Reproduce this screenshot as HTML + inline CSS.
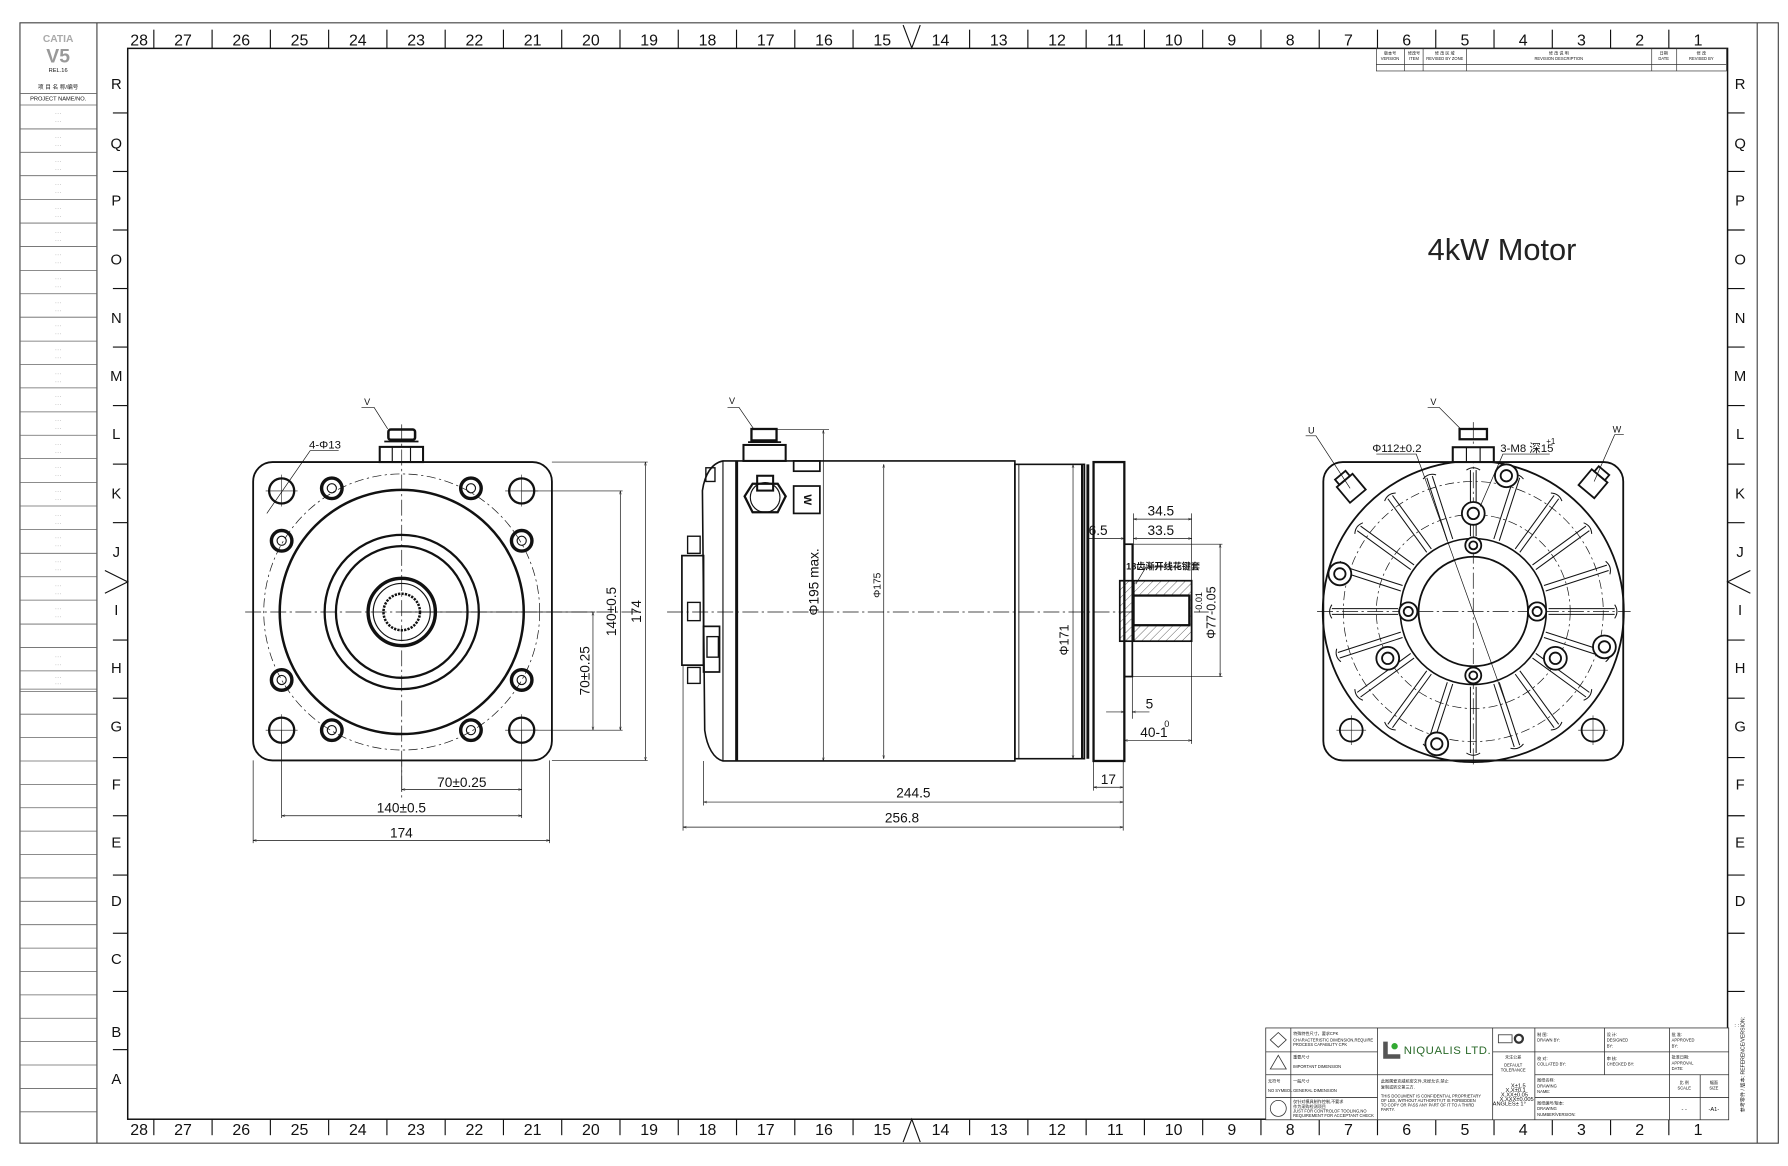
<!DOCTYPE html>
<html><head><meta charset="utf-8">
<style>
html,body{margin:0;padding:0;background:#fff;}
svg{display:block;}
text{font-family:"Liberation Sans","Noto Sans CJK SC",sans-serif;fill:#111;}
.n{font-family:"Liberation Sans Narrow","Liberation Sans","Noto Sans CJK SC",sans-serif;}
</style></head><body>
<svg width="1788" height="1166" viewBox="0 0 1568 1022" preserveAspectRatio="none" xmlns="http://www.w3.org/2000/svg">
<defs>
<marker id="a" viewBox="0 0 10 10" refX="10" refY="5" markerWidth="7" markerHeight="5" orient="auto-start-reverse"><path d="M0,2 L10,5 L0,8" fill="none" stroke="#111" stroke-width="1.2"/></marker>
<pattern id="h" width="5" height="5" patternUnits="userSpaceOnUse" patternTransform="rotate(45)"><line x1="0" y1="0" x2="0" y2="5" stroke="#222" stroke-width="0.6"/></pattern>
</defs>
<rect width="1568" height="1022" fill="#fff"/>
<!-- page border -->
<rect x="17.5" y="20" width="1542" height="982" fill="none" stroke="#444" stroke-width="1"/>
<line x1="85" y1="20" x2="85" y2="1002" stroke="#444" stroke-width="1"/>
<line x1="1541" y1="20" x2="1541" y2="1002" stroke="#444" stroke-width="1"/>
<!-- inner frame -->
<rect x="112" y="42.4" width="1403" height="938.6" fill="none" stroke="#111" stroke-width="1.3"/>
<!-- left strip -->
<g stroke="#666" stroke-width="0.7">
<line x1="17.5" y1="82" x2="85" y2="82"/>
<line x1="17.5" y1="92" x2="85" y2="92"/>
<line x1="17.5" y1="113" x2="85" y2="113"/><line x1="17.5" y1="133.5" x2="85" y2="133.5"/><line x1="17.5" y1="154" x2="85" y2="154"/><line x1="17.5" y1="175" x2="85" y2="175"/><line x1="17.5" y1="195.5" x2="85" y2="195.5"/><line x1="17.5" y1="216" x2="85" y2="216"/><line x1="17.5" y1="237" x2="85" y2="237"/><line x1="17.5" y1="257.5" x2="85" y2="257.5"/><line x1="17.5" y1="278" x2="85" y2="278"/><line x1="17.5" y1="299" x2="85" y2="299"/><line x1="17.5" y1="319.5" x2="85" y2="319.5"/><line x1="17.5" y1="340" x2="85" y2="340"/><line x1="17.5" y1="361" x2="85" y2="361"/><line x1="17.5" y1="381.5" x2="85" y2="381.5"/><line x1="17.5" y1="402" x2="85" y2="402"/><line x1="17.5" y1="423" x2="85" y2="423"/><line x1="17.5" y1="443.5" x2="85" y2="443.5"/><line x1="17.5" y1="464" x2="85" y2="464"/><line x1="17.5" y1="485" x2="85" y2="485"/><line x1="17.5" y1="505.5" x2="85" y2="505.5"/><line x1="17.5" y1="526" x2="85" y2="526"/><line x1="17.5" y1="547" x2="85" y2="547"/><line x1="17.5" y1="567.5" x2="85" y2="567.5"/><line x1="17.5" y1="588" x2="85" y2="588"/><line x1="17.5" y1="604" x2="85" y2="604"/><line x1="17.5" y1="606" x2="85" y2="606"/><line x1="17.5" y1="626" x2="85" y2="626"/><line x1="17.5" y1="646.5" x2="85" y2="646.5"/><line x1="17.5" y1="667" x2="85" y2="667"/><line x1="17.5" y1="687.5" x2="85" y2="687.5"/><line x1="17.5" y1="708" x2="85" y2="708"/><line x1="17.5" y1="728.5" x2="85" y2="728.5"/><line x1="17.5" y1="749" x2="85" y2="749"/><line x1="17.5" y1="769.5" x2="85" y2="769.5"/><line x1="17.5" y1="790" x2="85" y2="790"/><line x1="17.5" y1="810.5" x2="85" y2="810.5"/><line x1="17.5" y1="831" x2="85" y2="831"/><line x1="17.5" y1="851.5" x2="85" y2="851.5"/><line x1="17.5" y1="872" x2="85" y2="872"/><line x1="17.5" y1="892.5" x2="85" y2="892.5"/><line x1="17.5" y1="913" x2="85" y2="913"/><line x1="17.5" y1="933.5" x2="85" y2="933.5"/><line x1="17.5" y1="954" x2="85" y2="954"/><line x1="17.5" y1="974.5" x2="85" y2="974.5"/>
</g>
<text x="51" y="37" font-size="9" text-anchor="middle" fill="#aaa" style="fill:#aaa" font-weight="bold">CATIA</text>
<text x="51" y="55" font-size="17" text-anchor="middle" style="fill:#999" font-weight="bold">V5</text>
<text x="51" y="63" font-size="5" text-anchor="middle">REL.16</text>
<text x="51" y="78" font-size="5" text-anchor="middle">项 目 名 称/编号</text>
<text x="51" y="88" font-size="5" text-anchor="middle">PROJECT NAME/NO.</text>
<g font-size="6" text-anchor="middle" style="fill:#999">
<text x="51" y="101" style="fill:#999">···</text><text x="51" y="108" style="fill:#999">···</text>
<text x="51" y="122" style="fill:#999">···</text><text x="51" y="129" style="fill:#999">···</text>
<text x="51" y="143" style="fill:#999">···</text><text x="51" y="150" style="fill:#999">···</text>
<text x="51" y="163" style="fill:#999">···</text><text x="51" y="170" style="fill:#999">···</text>
<text x="51" y="184" style="fill:#999">···</text><text x="51" y="191" style="fill:#999">···</text>
<text x="51" y="205" style="fill:#999">···</text><text x="51" y="212" style="fill:#999">···</text>
<text x="51" y="225" style="fill:#999">···</text><text x="51" y="232" style="fill:#999">···</text>
<text x="51" y="246" style="fill:#999">···</text><text x="51" y="253" style="fill:#999">···</text>
<text x="51" y="267" style="fill:#999">···</text><text x="51" y="274" style="fill:#999">···</text>
<text x="51" y="287" style="fill:#999">···</text><text x="51" y="294" style="fill:#999">···</text>
<text x="51" y="308" style="fill:#999">···</text><text x="51" y="315" style="fill:#999">···</text>
<text x="51" y="329" style="fill:#999">···</text><text x="51" y="336" style="fill:#999">···</text>
<text x="51" y="349" style="fill:#999">···</text><text x="51" y="356" style="fill:#999">···</text>
<text x="51" y="370" style="fill:#999">···</text><text x="51" y="377" style="fill:#999">···</text>
<text x="51" y="391" style="fill:#999">···</text><text x="51" y="398" style="fill:#999">···</text>
<text x="51" y="411" style="fill:#999">···</text><text x="51" y="418" style="fill:#999">···</text>
<text x="51" y="432" style="fill:#999">···</text><text x="51" y="439" style="fill:#999">···</text>
<text x="51" y="453" style="fill:#999">···</text><text x="51" y="460" style="fill:#999">···</text>
<text x="51" y="473" style="fill:#999">···</text><text x="51" y="480" style="fill:#999">···</text>
<text x="51" y="494" style="fill:#999">···</text><text x="51" y="501" style="fill:#999">···</text>
<text x="51" y="515" style="fill:#999">···</text><text x="51" y="522" style="fill:#999">···</text>
<text x="51" y="535" style="fill:#999">···</text><text x="51" y="542" style="fill:#999">···</text>
<text x="51" y="577" style="fill:#999">···</text><text x="51" y="584" style="fill:#999">···</text>
<text x="51" y="595" style="fill:#999">···</text><text x="51" y="601" style="fill:#999">···</text>
</g>
<!-- column ticks & numbers -->
<g stroke="#111" stroke-width="1">
<line x1="134.9" y1="26" x2="134.9" y2="42"/><line x1="186" y1="26" x2="186" y2="42"/><line x1="237.1" y1="26" x2="237.1" y2="42"/><line x1="288.2" y1="26" x2="288.2" y2="42"/><line x1="339.3" y1="26" x2="339.3" y2="42"/><line x1="390.4" y1="26" x2="390.4" y2="42"/><line x1="441.5" y1="26" x2="441.5" y2="42"/><line x1="492.6" y1="26" x2="492.6" y2="42"/><line x1="543.7" y1="26" x2="543.7" y2="42"/><line x1="594.8" y1="26" x2="594.8" y2="42"/><line x1="645.9" y1="26" x2="645.9" y2="42"/><line x1="697" y1="26" x2="697" y2="42"/><line x1="748.1" y1="26" x2="748.1" y2="42"/><line x1="850.3" y1="26" x2="850.3" y2="42"/><line x1="901.4" y1="26" x2="901.4" y2="42"/><line x1="952.5" y1="26" x2="952.5" y2="42"/><line x1="1003.6" y1="26" x2="1003.6" y2="42"/><line x1="1054.7" y1="26" x2="1054.7" y2="42"/><line x1="1105.8" y1="26" x2="1105.8" y2="42"/><line x1="1156.9" y1="26" x2="1156.9" y2="42"/><line x1="1208" y1="26" x2="1208" y2="42"/><line x1="1259.1" y1="26" x2="1259.1" y2="42"/><line x1="1310.2" y1="26" x2="1310.2" y2="42"/><line x1="1361.3" y1="26" x2="1361.3" y2="42"/><line x1="1412.4" y1="26" x2="1412.4" y2="42"/><line x1="1463.5" y1="26" x2="1463.5" y2="42"/>
<line x1="134.9" y1="981" x2="134.9" y2="995"/><line x1="186" y1="981" x2="186" y2="995"/><line x1="237.1" y1="981" x2="237.1" y2="995"/><line x1="288.2" y1="981" x2="288.2" y2="995"/><line x1="339.3" y1="981" x2="339.3" y2="995"/><line x1="390.4" y1="981" x2="390.4" y2="995"/><line x1="441.5" y1="981" x2="441.5" y2="995"/><line x1="492.6" y1="981" x2="492.6" y2="995"/><line x1="543.7" y1="981" x2="543.7" y2="995"/><line x1="594.8" y1="981" x2="594.8" y2="995"/><line x1="645.9" y1="981" x2="645.9" y2="995"/><line x1="697" y1="981" x2="697" y2="995"/><line x1="748.1" y1="981" x2="748.1" y2="995"/><line x1="850.3" y1="981" x2="850.3" y2="995"/><line x1="901.4" y1="981" x2="901.4" y2="995"/><line x1="952.5" y1="981" x2="952.5" y2="995"/><line x1="1003.6" y1="981" x2="1003.6" y2="995"/><line x1="1054.7" y1="981" x2="1054.7" y2="995"/><line x1="1105.8" y1="981" x2="1105.8" y2="995"/><line x1="1156.9" y1="981" x2="1156.9" y2="995"/><line x1="1208" y1="981" x2="1208" y2="995"/><line x1="1259.1" y1="981" x2="1259.1" y2="995"/><line x1="1310.2" y1="981" x2="1310.2" y2="995"/><line x1="1361.3" y1="981" x2="1361.3" y2="995"/><line x1="1412.4" y1="981" x2="1412.4" y2="995"/><line x1="1463.5" y1="981" x2="1463.5" y2="995"/>
<polyline points="792,22 799.6,42 807,22" fill="none"/>
<polyline points="792,1001 799.6,981 807,1001" fill="none"/>
<polyline points="92,500 112,510 92,520" fill="none"/>
<polyline points="1535,500 1515,510 1535,520" fill="none"/>
</g>
<g font-size="14" text-anchor="middle">
<text x="122" y="40">28</text><text x="160.5" y="40">27</text><text x="211.6" y="40">26</text><text x="262.7" y="40">25</text><text x="313.8" y="40">24</text><text x="364.9" y="40">23</text><text x="416" y="40">22</text><text x="467.1" y="40">21</text><text x="518.2" y="40">20</text><text x="569.3" y="40">19</text><text x="620.4" y="40">18</text><text x="671.5" y="40">17</text><text x="722.6" y="40">16</text><text x="773.7" y="40">15</text><text x="824.8" y="40">14</text><text x="875.9" y="40">13</text><text x="927" y="40">12</text><text x="978.1" y="40">11</text><text x="1029.2" y="40">10</text><text x="1080.3" y="40">9</text><text x="1131.4" y="40">8</text><text x="1182.5" y="40">7</text><text x="1233.6" y="40">6</text><text x="1284.7" y="40">5</text><text x="1335.8" y="40">4</text><text x="1386.9" y="40">3</text><text x="1438" y="40">2</text><text x="1489.1" y="40">1</text>
<text x="122" y="995">28</text><text x="160.5" y="995">27</text><text x="211.6" y="995">26</text><text x="262.7" y="995">25</text><text x="313.8" y="995">24</text><text x="364.9" y="995">23</text><text x="416" y="995">22</text><text x="467.1" y="995">21</text><text x="518.2" y="995">20</text><text x="569.3" y="995">19</text><text x="620.4" y="995">18</text><text x="671.5" y="995">17</text><text x="722.6" y="995">16</text><text x="773.7" y="995">15</text><text x="824.8" y="995">14</text><text x="875.9" y="995">13</text><text x="927" y="995">12</text><text x="978.1" y="995">11</text><text x="1029.2" y="995">10</text><text x="1080.3" y="995">9</text><text x="1131.4" y="995">8</text><text x="1182.5" y="995">7</text><text x="1233.6" y="995">6</text><text x="1284.7" y="995">5</text><text x="1335.8" y="995">4</text><text x="1386.9" y="995">3</text><text x="1438" y="995">2</text><text x="1489.1" y="995">1</text>
</g>
<!-- row ticks & letters -->
<g stroke="#111" stroke-width="1">
<line x1="99" y1="99" x2="112" y2="99"/><line x1="99" y1="150.3" x2="112" y2="150.3"/><line x1="99" y1="201.6" x2="112" y2="201.6"/><line x1="99" y1="252.9" x2="112" y2="252.9"/><line x1="99" y1="304.2" x2="112" y2="304.2"/><line x1="99" y1="355.5" x2="112" y2="355.5"/><line x1="99" y1="406.8" x2="112" y2="406.8"/><line x1="99" y1="458.1" x2="112" y2="458.1"/><line x1="99" y1="561" x2="112" y2="561"/><line x1="99" y1="612" x2="112" y2="612"/><line x1="99" y1="664" x2="112" y2="664"/><line x1="99" y1="715" x2="112" y2="715"/><line x1="99" y1="767" x2="112" y2="767"/><line x1="99" y1="818" x2="112" y2="818"/><line x1="99" y1="869" x2="112" y2="869"/><line x1="99" y1="920" x2="112" y2="920"/>
<line x1="1515" y1="99" x2="1530" y2="99"/><line x1="1515" y1="150.3" x2="1530" y2="150.3"/><line x1="1515" y1="201.6" x2="1530" y2="201.6"/><line x1="1515" y1="252.9" x2="1530" y2="252.9"/><line x1="1515" y1="304.2" x2="1530" y2="304.2"/><line x1="1515" y1="355.5" x2="1530" y2="355.5"/><line x1="1515" y1="406.8" x2="1530" y2="406.8"/><line x1="1515" y1="458.1" x2="1530" y2="458.1"/><line x1="1515" y1="561" x2="1530" y2="561"/><line x1="1515" y1="612" x2="1530" y2="612"/><line x1="1515" y1="664" x2="1530" y2="664"/><line x1="1515" y1="715" x2="1530" y2="715"/><line x1="1515" y1="767" x2="1530" y2="767"/><line x1="1515" y1="818" x2="1530" y2="818"/><line x1="1515" y1="869" x2="1530" y2="869"/>
</g>
<g font-size="13" text-anchor="middle">
<text x="102" y="78">R</text><text x="102" y="130">Q</text><text x="102" y="180">P</text><text x="102" y="232">O</text><text x="102" y="283">N</text><text x="102" y="334">M</text><text x="102" y="385">L</text><text x="102" y="437">K</text><text x="102" y="488">J</text><text x="102" y="539">I</text><text x="102" y="590">H</text><text x="102" y="641">G</text><text x="102" y="692">F</text><text x="102" y="743">E</text><text x="102" y="794">D</text><text x="102" y="845">C</text><text x="102" y="909">B</text><text x="102" y="950">A</text>
<text x="1526" y="78">R</text><text x="1526" y="130">Q</text><text x="1526" y="180">P</text><text x="1526" y="232">O</text><text x="1526" y="283">N</text><text x="1526" y="334">M</text><text x="1526" y="385">L</text><text x="1526" y="437">K</text><text x="1526" y="488">J</text><text x="1526" y="539">I</text><text x="1526" y="590">H</text><text x="1526" y="641">G</text><text x="1526" y="692">F</text><text x="1526" y="743">E</text><text x="1526" y="794">D</text>
</g>
<text transform="translate(1530,975) rotate(-90)" font-size="4.5">参考零件 / 版本: REFERENCE/VERSION:</text>
<text x="1521" y="900" font-size="5">: :</text>

<!-- revision block -->
<g stroke="#333" stroke-width="0.6" fill="none">
<rect x="1207" y="42.4" width="307" height="19.8"/>
<line x1="1207" y1="56.4" x2="1514" y2="56.4"/>
<line x1="1231.6" y1="42.4" x2="1231.6" y2="62.2"/><line x1="1248" y1="42.4" x2="1248" y2="62.2"/><line x1="1286" y1="42.4" x2="1286" y2="62.2"/><line x1="1448.5" y1="42.4" x2="1448.5" y2="62.2"/><line x1="1470.4" y1="42.4" x2="1470.4" y2="62.2"/>
</g>
<g font-size="3.6" text-anchor="middle">
<text x="1219" y="48">版本号</text><text x="1219" y="52.5">VERSION</text>
<text x="1240" y="48">修改号</text><text x="1240" y="52.5">ITEM</text>
<text x="1267" y="48">修 改 区 域</text><text x="1267" y="52.5">REVISED BY ZONE</text>
<text x="1367" y="48">修 改 说 明</text><text x="1367" y="52.5">REVISION DESCRIPTION</text>
<text x="1459" y="48">日期</text><text x="1459" y="52.5">DATE</text>
<text x="1492" y="48">修 改</text><text x="1492" y="52.5">REVISED BY</text>
</g>

<!-- Title -->
<text x="1252" y="228" font-size="27" style="fill:#222">4kW Motor</text>

<!-- ============ LEFT VIEW ============ -->
<g fill="none" stroke="#111">
<line x1="215" y1="536.4" x2="560" y2="536.4" stroke-width="0.6" stroke-dasharray="14,3,2,3"/>
<line x1="352.3" y1="372" x2="352.3" y2="700" stroke-width="0.6" stroke-dasharray="14,3,2,3"/>
<rect x="222" y="405" width="262" height="261.5" rx="17" stroke-width="1.6"/>
<circle cx="352.3" cy="536.4" r="121" stroke-width="0.6" stroke-dasharray="8,3,2,3"/>
<circle cx="352.3" cy="536.4" r="107" stroke-width="2.2"/>
<circle cx="352.3" cy="536.4" r="67.6" stroke-width="2"/>
<circle cx="352.3" cy="536.4" r="57.7" stroke-width="2"/>
<circle cx="352.3" cy="536.4" r="29.5" stroke-width="3"/>
<circle cx="352.3" cy="536.4" r="25" stroke-width="1"/>
<circle cx="352.3" cy="536.4" r="16" stroke-width="2.2" stroke-dasharray="2,1"/>
<!-- corner holes -->
<circle cx="247" cy="430.3" r="11" stroke-width="2"/><circle cx="457.5" cy="430.3" r="11" stroke-width="2"/>
<circle cx="247" cy="640" r="11" stroke-width="2"/><circle cx="457.5" cy="640" r="11" stroke-width="2"/>
<g stroke-width="0.5">
<line x1="233" y1="430.3" x2="261" y2="430.3"/><line x1="247" y1="416" x2="247" y2="444"/>
<line x1="443" y1="430.3" x2="472" y2="430.3"/><line x1="457.5" y1="416" x2="457.5" y2="444"/>
<line x1="233" y1="640" x2="261" y2="640"/><line x1="247" y1="626" x2="247" y2="654"/>
<line x1="443" y1="640" x2="472" y2="640"/><line x1="457.5" y1="626" x2="457.5" y2="654"/>
</g>
<!-- threaded holes -->
<g stroke-width="3">
<circle cx="291" cy="428" r="9"/><circle cx="413" cy="428" r="9"/><circle cx="247" cy="474" r="9"/><circle cx="457.5" cy="474" r="9"/><circle cx="247" cy="596" r="9"/><circle cx="457.5" cy="596" r="9"/><circle cx="291" cy="640" r="9"/><circle cx="413" cy="640" r="9"/>
</g>
<g stroke-width="1">
<circle cx="291" cy="428" r="4"/><circle cx="413" cy="428" r="4"/><circle cx="247" cy="474" r="4"/><circle cx="457.5" cy="474" r="4"/><circle cx="247" cy="596" r="4"/><circle cx="457.5" cy="596" r="4"/><circle cx="291" cy="640" r="4"/><circle cx="413" cy="640" r="4"/>
</g>
<!-- terminal V -->
<rect x="333" y="391.7" width="38" height="13.3" stroke-width="1.8"/>
<line x1="344" y1="391.7" x2="344" y2="405" stroke-width="1"/><line x1="360" y1="391.7" x2="360" y2="405" stroke-width="1"/>
<rect x="340.6" y="376.5" width="23.4" height="9" rx="2" stroke-width="2.2"/>
<line x1="337" y1="387" x2="367" y2="387" stroke-width="1.5"/>
<!-- leaders -->
<polyline points="317,357 328,357 340,376" stroke-width="0.6"/>
<polyline points="297,395 272,395 234,450" stroke-width="0.6"/>
<!-- dims -->
<g stroke-width="0.6">
<line x1="457.5" y1="430.3" x2="546" y2="430.3"/><line x1="457.5" y1="640" x2="546" y2="640"/>
<line x1="484" y1="405" x2="568" y2="405"/><line x1="484" y1="666.5" x2="568" y2="666.5"/>
<line x1="352.3" y1="536.4" x2="522" y2="536.4"/>
<line x1="544" y1="430.3" x2="544" y2="640" marker-start="url(#a)" marker-end="url(#a)"/>
<line x1="566" y1="405" x2="566" y2="666.5" marker-start="url(#a)" marker-end="url(#a)"/>
<line x1="520" y1="536.4" x2="520" y2="640" marker-start="url(#a)" marker-end="url(#a)"/>
<line x1="247" y1="640" x2="247" y2="717"/><line x1="457.5" y1="640" x2="457.5" y2="717"/>
<line x1="352.3" y1="666.5" x2="352.3" y2="694"/>
<line x1="222" y1="666.5" x2="222" y2="739"/><line x1="482" y1="666.5" x2="482" y2="739"/>
<line x1="352.3" y1="692" x2="457.5" y2="692" marker-start="url(#a)" marker-end="url(#a)"/>
<line x1="247" y1="715" x2="457.5" y2="715" marker-start="url(#a)" marker-end="url(#a)"/>
<line x1="222" y1="736.6" x2="482" y2="736.6" marker-start="url(#a)" marker-end="url(#a)"/>
</g>
</g>
<g class="n" font-size="12">
<text x="322" y="355" font-size="8" text-anchor="middle">V</text>
<text x="285" y="393" font-size="10" text-anchor="middle">4-Φ13</text>
<text x="405" y="690" text-anchor="middle">70±0.25</text>
<text x="352" y="712" text-anchor="middle">140±0.5</text>
<text x="352" y="734" text-anchor="middle">174</text>
<text transform="translate(540,536) rotate(-90)" text-anchor="middle">140±0.5</text>
<text transform="translate(562,536) rotate(-90)" text-anchor="middle">174</text>
<text transform="translate(517,588) rotate(-90)" text-anchor="middle">70±0.25</text>
</g>

<!-- ============ MIDDLE VIEW ============ -->
<g fill="none" stroke="#111">
<line x1="585" y1="536.4" x2="1060" y2="536.4" stroke-width="0.6" stroke-dasharray="14,3,2,3"/>
<!-- main body -->
<path d="M634,404 L890,404 L890,667 L634,667 C626,665 620,655 618,640 L616,430 C618,416 624,406 634,404 Z" stroke-width="1.4"/>
<line x1="634" y1="404" x2="634" y2="667" stroke-width="1"/>
<line x1="646" y1="404" x2="646" y2="667" stroke-width="2.6"/>
<!-- top small box & W -->
<rect x="696" y="404" width="23" height="9" stroke-width="1.5"/>
<rect x="696" y="426" width="23" height="24" stroke-width="1.5"/>
<text x="707.5" y="438" font-size="10" text-anchor="middle" font-weight="bold" transform="rotate(90 707.5 438)" dominant-baseline="middle" stroke="none">W</text>
<!-- plug -->
<path d="M660,424 L682,424 L689,435 L682,449 L660,449 L653,435 Z" stroke-width="2"/>
<circle cx="671" cy="436" r="13" stroke-width="1"/>
<rect x="664" y="417" width="14" height="13" stroke-width="1.8"/>
<!-- V terminal -->
<rect x="652" y="390" width="37" height="14" stroke-width="1.8"/>
<rect x="659" y="376" width="22" height="10" stroke-width="2"/>
<line x1="656" y1="387.5" x2="685" y2="387.5" stroke-width="1.5"/>
<polyline points="638,357 648,357 661,376" stroke-width="0.6"/>
<!-- connector on left -->
<rect x="598" y="487" width="19" height="96" stroke-width="1.5"/>
<rect x="617" y="549" width="14" height="40" stroke-width="1.5"/>
<rect x="603" y="470" width="11" height="15" stroke-width="1.2"/>
<rect x="603" y="528" width="11" height="16" stroke-width="1.2"/>
<rect x="620" y="558" width="10" height="18" stroke-width="1.2"/>
<rect x="603" y="585" width="11" height="14" stroke-width="1.2"/>
<rect x="619" y="410" width="8" height="12" stroke-width="1.2"/>
<!-- step section -->
<rect x="890" y="407" width="61" height="258" stroke-width="1.4"/>
<line x1="893.5" y1="407" x2="893.5" y2="665" stroke-width="0.8"/>
<line x1="949" y1="407" x2="949" y2="665" stroke-width="2"/>
<line x1="954" y1="407" x2="954" y2="665" stroke-width="2.5"/>
<!-- flange -->
<rect x="959" y="405" width="27" height="262" stroke-width="2"/>
<!-- spline -->
<rect x="986" y="477" width="7" height="116" stroke-width="1.5"/>
<!-- shaft -->
<rect x="982" y="509" width="63" height="53" fill="url(#h)" stroke-width="1.5"/>
<rect x="994" y="522" width="49" height="26" fill="#fff" stroke-width="2"/>
<line x1="994" y1="509" x2="994" y2="562" stroke-width="2"/>
<line x1="986" y1="509" x2="1000" y2="509" stroke-width="1"/>
<!-- dims -->
<g stroke-width="0.6">
<line x1="722" y1="377" x2="722" y2="667" marker-start="url(#a)" marker-end="url(#a)"/>
<line x1="681" y1="376.5" x2="727" y2="376.5"/>
<line x1="775" y1="407" x2="775" y2="665" marker-start="url(#a)" marker-end="url(#a)"/>
<line x1="941" y1="407" x2="941" y2="665" marker-start="url(#a)" marker-end="url(#a)"/>
<line x1="994" y1="450" x2="994" y2="510"/><line x1="1045" y1="450" x2="1045" y2="510"/>
<line x1="994" y1="455" x2="1045" y2="455" marker-start="url(#a)" marker-end="url(#a)"/>
<line x1="994" y1="472" x2="1045" y2="472" marker-start="url(#a)" marker-end="url(#a)"/>
<line x1="955" y1="472" x2="986" y2="472" marker-end="url(#a)"/>
<line x1="993" y1="477" x2="1072" y2="477"/><line x1="993" y1="593" x2="1072" y2="593"/>
<line x1="1070" y1="477" x2="1070" y2="593" marker-start="url(#a)" marker-end="url(#a)"/>
<polyline points="1036,497 1005,497 996,512"/>
<line x1="986" y1="593" x2="986" y2="630"/><line x1="993" y1="593" x2="993" y2="630"/>
<line x1="970" y1="624" x2="986" y2="624" marker-end="url(#a)"/>
<line x1="993" y1="624" x2="1008" y2="624" marker-start="url(#a)"/>
<line x1="1045" y1="562" x2="1045" y2="652"/>
<line x1="986" y1="649" x2="1045" y2="649" marker-start="url(#a)" marker-end="url(#a)"/>
<line x1="959" y1="667" x2="959" y2="693"/><line x1="985" y1="667" x2="985" y2="728"/>
<line x1="959" y1="690" x2="985" y2="690" marker-start="url(#a)" marker-end="url(#a)"/>
<line x1="617" y1="667" x2="617" y2="706"/>
<line x1="617" y1="703" x2="985" y2="703" marker-start="url(#a)" marker-end="url(#a)"/>
<line x1="599" y1="583" x2="599" y2="728"/>
<line x1="599" y1="725" x2="985" y2="725" marker-start="url(#a)" marker-end="url(#a)"/>
</g>
</g>
<g class="n" font-size="12">
<text x="642" y="354" font-size="8" text-anchor="middle">V</text>
<text transform="translate(718,510) rotate(-90)" text-anchor="middle">Φ195 max.</text>
<text transform="translate(772,513) rotate(-90)" text-anchor="middle" font-size="9">Φ175</text>
<text transform="translate(937,561) rotate(-90)" text-anchor="middle" font-size="11">Φ171</text>
<text x="1018" y="452" text-anchor="middle">34.5</text>
<text x="1018" y="469" text-anchor="middle">33.5</text>
<text x="963" y="469" text-anchor="middle">6.5</text>
<text x="1020" y="499" font-size="8" text-anchor="middle" font-weight="bold">18齿渐开线花键套</text>
<text transform="translate(1066,537) rotate(-90)" text-anchor="middle" font-size="11">Φ77-0.05</text>
<text transform="translate(1054,528) rotate(-90)" text-anchor="middle" font-size="8">-0.01</text>
<text x="1008" y="621" text-anchor="middle">5</text>
<text x="1012" y="646" text-anchor="middle">40-1</text>
<text x="1021" y="637" font-size="8">0</text>
<text x="972" y="687" text-anchor="middle">17</text>
<text x="801" y="699" text-anchor="middle">244.5</text>
<text x="791" y="721" text-anchor="middle">256.8</text>
</g>

<!-- ============ RIGHT VIEW ============ -->
<g fill="none" stroke="#111">
<line x1="1155" y1="536" x2="1430" y2="536" stroke-width="0.6" stroke-dasharray="14,3,2,3"/>
<line x1="1292" y1="370" x2="1292" y2="672" stroke-width="0.6" stroke-dasharray="14,3,2,3"/>
<rect x="1160.5" y="405" width="263" height="261.5" rx="17" stroke-width="1.6"/>
<circle cx="1292" cy="536" r="132" stroke-width="1.6"/>
<circle cx="1292" cy="536" r="114" stroke-width="0.6" stroke-dasharray="8,3,2,3"/>
<circle cx="1292" cy="536" r="85" stroke-width="0.6" stroke-dasharray="8,3,2,3"/>
<circle cx="1292" cy="536" r="64" stroke-width="1.4"/>
<circle cx="1292" cy="536" r="48" stroke-width="1.6"/>
<!-- fins -->
<g stroke-width="0.9">
<g id="fin"><line x1="1289.5" y1="470" x2="1289.5" y2="412"/><line x1="1294.5" y1="470" x2="1294.5" y2="412"/><path d="M1286,412 Q1292,408 1298,412"/></g>
<use href="#fin" transform="rotate(18 1292 536)"/><use href="#fin" transform="rotate(36 1292 536)"/><use href="#fin" transform="rotate(54 1292 536)"/><use href="#fin" transform="rotate(72 1292 536)"/><use href="#fin" transform="rotate(90 1292 536)"/><use href="#fin" transform="rotate(108 1292 536)"/><use href="#fin" transform="rotate(126 1292 536)"/><use href="#fin" transform="rotate(144 1292 536)"/><use href="#fin" transform="rotate(162 1292 536)"/><use href="#fin" transform="rotate(180 1292 536)"/><use href="#fin" transform="rotate(198 1292 536)"/><use href="#fin" transform="rotate(216 1292 536)"/><use href="#fin" transform="rotate(234 1292 536)"/><use href="#fin" transform="rotate(252 1292 536)"/><use href="#fin" transform="rotate(270 1292 536)"/><use href="#fin" transform="rotate(288 1292 536)"/><use href="#fin" transform="rotate(306 1292 536)"/><use href="#fin" transform="rotate(324 1292 536)"/><use href="#fin" transform="rotate(342 1292 536)"/>
</g>
<!-- bosses -->
<g fill="#fff" stroke-width="1.6">
<circle cx="1292" cy="450" r="10"/><circle cx="1292" cy="478" r="7"/><circle cx="1321" cy="417" r="10"/><circle cx="1175" cy="503" r="10"/><circle cx="1235" cy="536" r="8"/><circle cx="1348" cy="536" r="8"/><circle cx="1217" cy="577" r="10"/><circle cx="1364" cy="577" r="10"/><circle cx="1292" cy="592" r="7"/><circle cx="1407" cy="567" r="10"/><circle cx="1260" cy="652" r="10"/>
</g>
<g stroke-width="1.6">
<circle cx="1292" cy="450" r="5"/><circle cx="1292" cy="478" r="3.5"/><circle cx="1321" cy="417" r="5"/><circle cx="1175" cy="503" r="5"/><circle cx="1235" cy="536" r="4"/><circle cx="1348" cy="536" r="4"/><circle cx="1217" cy="577" r="5"/><circle cx="1364" cy="577" r="5"/><circle cx="1292" cy="592" r="3.5"/><circle cx="1407" cy="567" r="5"/><circle cx="1260" cy="652" r="5"/>
</g>
<!-- corner holes -->
<circle cx="1185" cy="640" r="10" stroke-width="1.6"/><circle cx="1397" cy="640" r="10" stroke-width="1.6"/>
<g stroke-width="0.5"><line x1="1172" y1="640" x2="1198" y2="640"/><line x1="1185" y1="627" x2="1185" y2="653"/><line x1="1384" y1="640" x2="1410" y2="640"/><line x1="1397" y1="627" x2="1397" y2="653"/></g>
<!-- U & W terminals -->
<g transform="rotate(-40 1185 428)" stroke-width="1.6"><rect x="1176" y="419" width="18" height="18" fill="#fff"/><rect x="1179" y="413" width="12" height="6"/></g>
<g transform="rotate(40 1397 424)" stroke-width="1.6"><rect x="1388" y="415" width="18" height="18" fill="#fff"/><rect x="1391" y="409" width="12" height="6"/></g>
<!-- V terminal -->
<rect x="1274" y="392" width="36" height="13" stroke-width="1.8" fill="#fff"/>
<line x1="1286" y1="392" x2="1286" y2="405" stroke-width="1"/><line x1="1298" y1="392" x2="1298" y2="405" stroke-width="1"/>
<rect x="1280" y="376" width="24" height="9" stroke-width="2"/>
<!-- leaders -->
<g stroke-width="0.6">
<polyline points="1145,382 1154,382 1184,428"/>
<polyline points="1424,381 1416,381 1398,422"/>
<polyline points="1252,357 1262,357 1281,376"/>
<polyline points="1207,398 1242,398 1324,626"/>
<polyline points="1359,398 1318,398 1298,444"/>
</g>
</g>
<g class="n" font-size="10">
<text x="1150" y="380" font-size="8" text-anchor="middle">U</text>
<text x="1418" y="379" font-size="8" text-anchor="middle">W</text>
<text x="1257" y="355" font-size="8" text-anchor="middle">V</text>
<text x="1225" y="396" text-anchor="middle">Φ112±0.2</text>
<text x="1339" y="396" text-anchor="middle">3-M8 深15</text>
<text x="1356" y="389" font-size="7">+1</text>
</g>

<!-- ============ TITLE BLOCK ============ -->
<g stroke="#333" stroke-width="0.7" fill="none">
<rect x="1110" y="901" width="406" height="80.5" fill="#fff"/>
<line x1="1132" y1="901" x2="1132" y2="981.5"/><line x1="1208" y1="901" x2="1208" y2="981.5"/><line x1="1309" y1="901" x2="1309" y2="981.5"/><line x1="1346" y1="901" x2="1346" y2="981.5"/><line x1="1464" y1="901" x2="1464" y2="981.5"/>
<line x1="1407" y1="901" x2="1407" y2="942"/><line x1="1491" y1="942" x2="1491" y2="981.5"/>
<line x1="1110" y1="922" x2="1208" y2="922"/><line x1="1110" y1="942" x2="1309" y2="942"/><line x1="1110" y1="962" x2="1208" y2="962"/>
<line x1="1346" y1="922" x2="1516" y2="922"/><line x1="1346" y1="942" x2="1516" y2="942"/><line x1="1346" y1="962" x2="1516" y2="962"/>
<line x1="1309" y1="922" x2="1346" y2="922"/>
<path d="M1121,905 L1128,911.5 L1121,918 L1114,911.5 Z"/>
<path d="M1121,925 L1128,937 L1114,937 Z"/>
<circle cx="1121" cy="971.5" r="7"/>
<rect x="1314" y="907" width="12" height="7"/><circle cx="1332" cy="910.5" r="3.5" stroke-width="2"/>
</g>
<path d="M1213,913 L1213,928 L1228,928 L1228,924 L1217,924 L1217,913 Z" fill="#555"/>
<circle cx="1223" cy="917" r="2.8" fill="#3a3"/>
<text x="1231" y="924" font-size="10" style="fill:#2a6a2a" letter-spacing="0.5">NIQUALIS LTD.</text>
<g font-size="3.6">
<text x="1134" y="907">特殊特性尺寸，要求CPK</text>
<text x="1134" y="913">CHARACTERISTIC DIMENSION,REQUIRE</text>
<text x="1134" y="917">PROCESS CAPABILITY CPK</text>
<text x="1134" y="928">重要尺寸</text>
<text x="1134" y="936">IMPORTANT DIMENSION</text>
<text x="1112" y="949">无符号</text><text x="1134" y="949">一般尺寸</text>
<text x="1112" y="957">NO SYMBOL</text><text x="1134" y="957">GENERAL DIMENSION</text>
<text x="1134" y="967">仅针对模具制作控制,不要求</text>
<text x="1134" y="971">作为采购检测项目</text>
<text x="1134" y="975">JUST FOR CONTROLOF TOOLING,NO</text>
<text x="1134" y="979">REQUIREMENT FOR ACCEPTANT CHECK</text>
<text x="1211" y="949">此图属爱克威机密文件,未经允许,禁止</text>
<text x="1211" y="954">复制或转交第三方.</text>
<text x="1211" y="962">THIS DOCUMENT IS CONFIDENTIAL PROPRIETARY</text>
<text x="1211" y="966">OF LBX, WITHOUT AUTHORITY,IT IS FORBIDDEN</text>
<text x="1211" y="970">TO COPY OR PASS ANY PART OF IT TO A THIRD</text>
<text x="1211" y="974">PARTY.</text>
<text x="1327" y="928" text-anchor="middle">未注公差</text>
<text x="1327" y="935" text-anchor="middle">DEFAULT</text>
<text x="1327" y="939" text-anchor="middle">TOLERANCE</text>
<text x="1338" y="953" font-size="5" text-anchor="end">X±1.5</text>
<text x="1338" y="957" font-size="5" text-anchor="end">X.X±0.1</text>
<text x="1340" y="961" font-size="5" text-anchor="end">X.XX±0.05</text>
<text x="1345" y="965" font-size="5" text-anchor="end">X.XXX±0.005</text>
<text x="1309" y="969" font-size="5">ANGLES± 1°</text>
<text x="1348" y="908">制 图:</text><text x="1348" y="913">DRAWN BY:</text>
<text x="1409" y="908">设 计:</text><text x="1409" y="913">DESIGNED</text><text x="1409" y="918">BY:</text>
<text x="1466" y="908">批 准:</text><text x="1466" y="913">APPROVED</text><text x="1466" y="918">BY:</text>
<text x="1348" y="929">校 对:</text><text x="1348" y="934">COLLATED BY:</text>
<text x="1409" y="929">审 核:</text><text x="1409" y="934">CHECKED BY:</text>
<text x="1466" y="928">批准日期:</text><text x="1466" y="933">APPROVAL</text><text x="1466" y="938">DATE:</text>
<text x="1348" y="948">图纸名称:</text><text x="1348" y="953">DRAWING</text><text x="1348" y="958">NAME:</text>
<text x="1348" y="968">图纸编号/版本:</text><text x="1348" y="973">DRAWING</text><text x="1348" y="978">NUMBER/VERSION:</text>
<text x="1477" y="950" text-anchor="middle">比 例</text><text x="1477" y="955" text-anchor="middle">SCALE</text>
<text x="1503" y="950" text-anchor="middle">幅面</text><text x="1503" y="955" text-anchor="middle">SIZE</text>
<text x="1477" y="974" font-size="5" text-anchor="middle">- -</text>
<text x="1503" y="974" font-size="5" text-anchor="middle">-A1-</text>
</g>
</svg>
</body></html>
